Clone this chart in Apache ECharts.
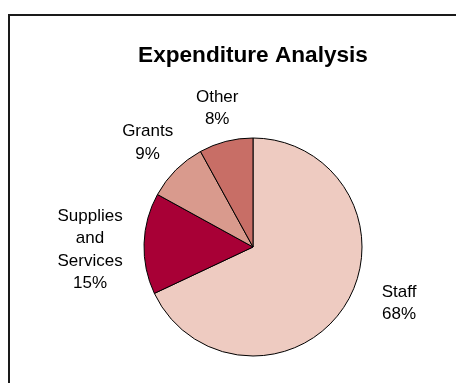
<!DOCTYPE html>
<html>
<head>
<meta charset="utf-8">
<script src="https://cdn.jsdelivr.net/npm/echarts@6/dist/echarts.min.js"></script>
<style>
  html, body { margin: 0; padding: 0; background: #fff; overflow: hidden; }
  #wrap { position: relative; width: 456px; height: 383px; overflow: hidden; }
  /* outer frame: only its top and left edges fall inside the view */
  #frame { position: absolute; left: 8px; top: 14px; width: 448px; height: 369px;
           border-top: 2px solid #1a1a1a; border-left: 2px solid #1a1a1a; box-sizing: border-box; }
  #chart { position: absolute; left: 0; top: 0; width: 456px; height: 383px; }
</style>
</head>
<body>
<div id="wrap">
  <div id="frame"></div>
  <div id="chart"></div>
</div>
<script>
// Expenditure split, shares in percent
const categories = ['Staff', 'Supplies and Services', 'Grants', 'Other'];
const shares = [68, 15, 9, 8];
const colors = ['#EECBC1', '#A80036', '#D99A8D', '#C86E66'];

// label leader geometry per slice (leader hidden, only used to place the text)
const leadLen = [0, 0, 40, 35];
const leadLen2 = [54, 54, 0, 0];
const labelNudgeY = [-2, 6, 1, 1];

const chart = echarts.init(document.getElementById('chart'), null, { renderer: 'canvas' });

const data = categories.map((name, i) => ({
  name: name,
  value: shares[i],
  itemStyle: { color: colors[i] },
  labelLine: { show: false, length: leadLen[i], length2: leadLen2[i] }
}));

chart.setOption({
  backgroundColor: 'transparent',
  animation: false,
  title: {
    text: 'Expenditure Analysis',
    left: 248,
    textAlign: 'center',
    top: 39,
    textStyle: {
      fontFamily: 'Liberation Sans, Arial, sans-serif',
      fontSize: 22.6,
      fontWeight: 'bold',
      color: '#000'
    }
  },
  series: [{
    type: 'pie',
    center: [253, 247],
    radius: 109,
    startAngle: 90,
    clockwise: true,
    avoidLabelOverlap: false,
    data: data,
    itemStyle: { borderColor: '#000', borderWidth: 1 },
    label: {
      show: true,
      position: 'outside',
      alignTo: 'none',
      distanceToLabelLine: 0,
      fontFamily: 'Liberation Sans, Arial, sans-serif',
      fontSize: 17,
      lineHeight: 22.5,
      color: '#000',
      formatter: p => p.name.split(' ').join('\n') + '\n' + Math.round(p.percent) + '%'
    },
    labelLayout: p => ({ align: 'center', verticalAlign: 'middle', dy: labelNudgeY[p.dataIndex] }),
    emphasis: { disabled: true }
  }]
});
</script>
</body>
</html>
